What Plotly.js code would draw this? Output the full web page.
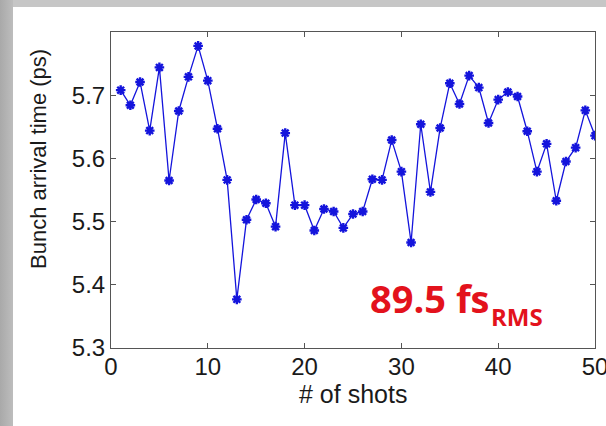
<!DOCTYPE html>
<html>
<head>
<meta charset="utf-8">
<script src="https://cdn.plot.ly/plotly-3.0.1.min.js"></script>
<style>
  html, body { margin: 0; padding: 0; width: 606px; height: 426px; overflow: hidden; background: #c6c6c6; }
  #strip { position: absolute; left: 0; top: 0; width: 13px; height: 426px; background: linear-gradient(to right, #a9a9a9, #bdbdbd); }
  #chart { position: absolute; left: 13px; top: 7px; width: 593px; height: 419px; background: #fff; }
</style>
</head>
<body>
<div id="strip"></div>
<div id="chart"></div>
<script>
const shots = [1,2,3,4,5,6,7,8,9,10,11,12,13,14,15,16,17,18,19,20,21,22,23,24,25,26,27,28,29,30,31,32,33,34,35,36,37,38,39,40,41,42,43,44,45,46,47,48,49,50];
const arrivalTime = [5.708,5.684,5.721,5.644,5.744,5.565,5.675,5.729,5.778,5.723,
                     5.647,5.566,5.377,5.503,5.535,5.529,5.492,5.640,5.526,5.526,
                     5.486,5.520,5.516,5.490,5.512,5.516,5.567,5.566,5.629,5.579,
                     5.467,5.654,5.547,5.648,5.719,5.686,5.731,5.712,5.656,5.693,
                     5.705,5.698,5.643,5.579,5.623,5.533,5.595,5.617,5.676,5.636];
const xTicks = [0,10,20,30,40,50];
const yTicks = [5.3,5.4,5.5,5.6,5.7];
const yTickText = ['5.3','5.4','5.5','5.6','5.7'];
const xTitle = '# of shots';
const yTitle = 'Bunch arrival time (ps)';
const rmsValue = '89.5 fs';
const rmsSub = 'RMS';

const axisColor = '#555555';
const sans = 'Liberation Sans, Arial, sans-serif';
const tickFont = {family: sans, size: 24, color: '#1a1a1a'};

Plotly.newPlot('chart', [{
  x: shots, y: arrivalTime, type: 'scatter', mode: 'lines+markers',
  line: {color: '#1414dc', width: 1.3},
  marker: {symbol: 'asterisk-open', size: 8, color: '#1414dc', line: {color: '#1414dc', width: 2.4}},
  hoverinfo: 'skip'
}], {
  width: 593, height: 419,
  margin: {l: 98, r: 11, t: 25, b: 78},
  paper_bgcolor: '#ffffff', plot_bgcolor: '#ffffff',
  showlegend: false,
  xaxis: {
    range: [0, 50], tickvals: xTicks, ticks: 'inside', ticklen: 5, tickcolor: axisColor,
    showline: true, linecolor: axisColor, linewidth: 1, mirror: 'ticks',
    showgrid: false, zeroline: false, tickfont: tickFont,
    ticklabeloverflow: 'allow', ticklabelstandoff: -3
  },
  yaxis: {
    range: [5.3, 5.8], tickvals: yTicks, ticktext: yTickText, ticks: 'inside', ticklen: 5, tickcolor: axisColor,
    showline: true, linecolor: axisColor, linewidth: 1, mirror: 'ticks',
    showgrid: false, zeroline: false, tickfont: tickFont
  },
  annotations: [
    {text: yTitle, xref: 'paper', yref: 'paper', x: -0.151, y: 0.598, xanchor: 'center', yanchor: 'middle',
     textangle: -90, showarrow: false, font: {family: sans, size: 22, color: '#1a1a1a'}},
    {text: xTitle, xref: 'paper', yref: 'paper', x: 0.5, y: -0.146, xanchor: 'center', yanchor: 'middle',
     showarrow: false, borderpad: 0, font: {family: sans, size: 25, color: '#1a1a1a'}},
    {text: '<b>' + rmsValue + '</b>', xref: 'paper', yref: 'paper', x: 0.531, y: 0.157, xanchor: 'left', yanchor: 'middle',
     showarrow: false, font: {family: 'Open Sans, sans-serif', size: 38, color: '#e3121c'}},
    {text: '<b>' + rmsSub + '</b>', xref: 'paper', yref: 'paper', x: 0.782, y: 0.100, xanchor: 'left', yanchor: 'middle',
     showarrow: false, font: {family: 'Open Sans, sans-serif', size: 24, color: '#e3121c'}}
  ]
}, {staticPlot: true, displayModeBar: false});
</script>
</body>
</html>
